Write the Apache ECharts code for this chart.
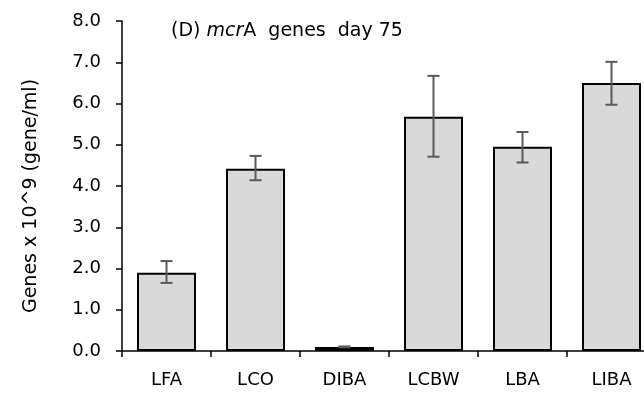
<!DOCTYPE html>
<html><head><meta charset="utf-8">
<script src="https://cdn.jsdelivr.net/npm/echarts@6/dist/echarts.min.js"></script>
<style>html,body{margin:0;padding:0;background:#fff}#c{width:644px;height:395px}</style>
</head><body><div id="c"></div>
<script>
const categories = ['LFA','LCO','DIBA','LCBW','LBA','LIBA'];
const values = [1.90, 4.42, 0.10, 5.68, 4.95, 6.50];
const errLow = [1.65, 4.14, 0.09, 4.71, 4.57, 5.97];
const errHigh = [2.18, 4.73, 0.11, 6.67, 5.31, 7.01];
const yTicks = [0,1,2,3,4,5,6,7,8];

const font = "'DejaVu Sans', sans-serif";
const chart = echarts.init(document.getElementById('c'), null, {renderer:'canvas'});
chart.setOption({
  animation:false,
  backgroundColor:'#fff',
  title:{
    text:'(D) {i|mcr}A  genes  day 75',
    left:166, top:17,
    textStyle:{fontFamily:font, fontSize:19, fontWeight:'normal', color:'#000',
      rich:{i:{fontFamily:font, fontSize:19, fontStyle:'italic', color:'#000'}}}
  },
  grid:{left:122, width:534, top:21, bottom:44, containLabel:false, outerBoundsMode:'none'},
  xAxis:{
    type:'category', data:categories,
    axisLine:{lineStyle:{color:'#000', width:1.5}},
    axisTick:{show:true, alignWithLabel:false, length:6, lineStyle:{color:'#000', width:1.5}},
    axisLabel:{fontFamily:font, fontSize:18, color:'#000', margin:20}
  },
  yAxis:{
    type:'value', min:yTicks[0], max:yTicks[yTicks.length-1], interval:1,
    name:'Genes x 10^9 (gene/ml)', nameLocation:'middle', nameGap:81,
    nameTextStyle:{fontFamily:font, fontSize:19, color:'#000', padding:[0,20,0,0]},
    axisLine:{show:true, lineStyle:{color:'#000', width:1.5}},
    axisTick:{show:true, length:6, lineStyle:{color:'#000', width:1.5}},
    splitLine:{show:false},
    axisLabel:{fontFamily:font, fontSize:18, color:'#000', margin:21,
      formatter:v=>v.toFixed(1)}
  },
  series:[
    {type:'bar', data:values, barWidth:59,
     itemStyle:{color:'#d9d9d9', borderColor:'#000', borderWidth:2}},
    {type:'custom', z:10,
     data:categories.map((c,i)=>[i, errLow[i], errHigh[i]]),
     renderItem:function(params, api){
       const x = api.value(0);
       const lo = api.coord([x, api.value(1)]);
       const hi = api.coord([x, api.value(2)]);
       const hw = 6;
       const st = {stroke:'#595959', lineWidth:2};
       return {type:'group', children:[
         {type:'line', shape:{x1:lo[0], y1:lo[1], x2:hi[0], y2:hi[1]}, style:st},
         {type:'line', shape:{x1:lo[0]-hw, y1:lo[1], x2:lo[0]+hw, y2:lo[1]}, style:st},
         {type:'line', shape:{x1:hi[0]-hw, y1:hi[1], x2:hi[0]+hw, y2:hi[1]}, style:st}
       ]};
     }}
  ]
});
</script></body></html>
